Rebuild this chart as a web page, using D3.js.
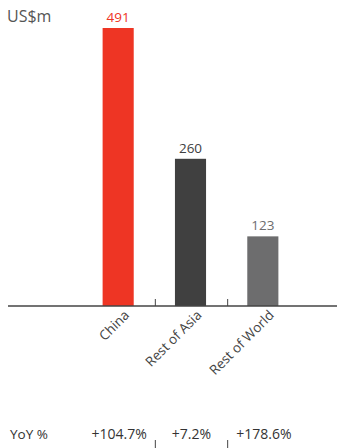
<!DOCTYPE html>
<html><head><meta charset="utf-8">
<script src="https://cdn.jsdelivr.net/npm/d3@7/dist/d3.min.js"></script>
<style>body{margin:0;background:#fff}svg{display:block}text{font-family:"Open Sans",Arial,sans-serif}</style>
</head><body><svg id="c" width="337" height="448"></svg>
<script>
const categories = ["China", "Rest of Asia", "Rest of World"];
const values = [491, 260, 123];
const yoy = ["+104.7%", "+7.2%", "+178.6%"];
const colors = ["#ee3524", "#404040", "#6d6d6e"];
const labelColors = ["#ee3524", "#404040", "#6d6d6e"];
const unitLabel = "US$m";
const yoyLabel = "YoY %";

const svg = d3.select("#c");
const base = 306;
const x = d3.scaleBand().domain(categories).range([82, 299]).paddingInner(0.57).paddingOuter(0.285);
const y = d3.scaleLinear().domain([0, 491]).range([base, 28]);

svg.append("text").attr("x", 7).attr("y", 22).attr("font-size", 16).attr("fill", "#555").text(unitLabel);

svg.selectAll("rect.bar").data(categories).join("rect")
  .attr("x", d => x(d)).attr("width", x.bandwidth())
  .attr("y", (d,i) => y(values[i])).attr("height", (d,i) => base - y(values[i]))
  .attr("fill", (d,i) => colors[i]);

svg.selectAll("text.val").data(categories).join("text")
  .attr("x", d => x(d) + x.bandwidth()/2)
  .attr("y", (d,i) => y(values[i]) - 6)
  .attr("text-anchor", "middle").attr("font-size", 13.5)
  .attr("fill", (d,i) => labelColors[i])
  .text((d,i) => values[i]);

// axis
svg.append("line").attr("x1", 8).attr("x2", 337).attr("y1", base).attr("y2", base)
  .attr("stroke", "#444").attr("stroke-width", 1.6);
const bounds = categories.slice(1).map(d => x(d) - x.step()*x.paddingInner()/2);
svg.selectAll("line.tk").data(bounds).join("line")
  .attr("x1", d => d + 1).attr("x2", d => d + 1).attr("y1", base - 7).attr("y2", base)
  .attr("stroke", "#444").attr("stroke-width", 1);

svg.selectAll("text.cat").data(categories).join("text")
  .attr("transform", d => `translate(${x(d) + x.bandwidth()/2 + 12},${base + 10}) rotate(-45)`)
  .attr("text-anchor", "end").attr("font-size", 13.5).attr("fill", "#444")
  .text(d => d);

// YoY row
svg.append("text").attr("x", 10).attr("y", 439).attr("font-size", 13.5).attr("fill", "#333").text(yoyLabel);
svg.selectAll("text.yoy").data(categories).join("text")
  .attr("x", d => x(d) + x.bandwidth()/2 + 1).attr("y", 439)
  .attr("text-anchor", "middle").attr("font-size", 14).attr("fill", "#333")
  .text((d,i) => yoy[i]);
svg.selectAll("line.tk2").data(bounds).join("line")
  .attr("x1", d => d + 1).attr("x2", d => d + 1).attr("y1", 440).attr("y2", 448)
  .attr("stroke", "#444").attr("stroke-width", 1);
</script></body></html>
